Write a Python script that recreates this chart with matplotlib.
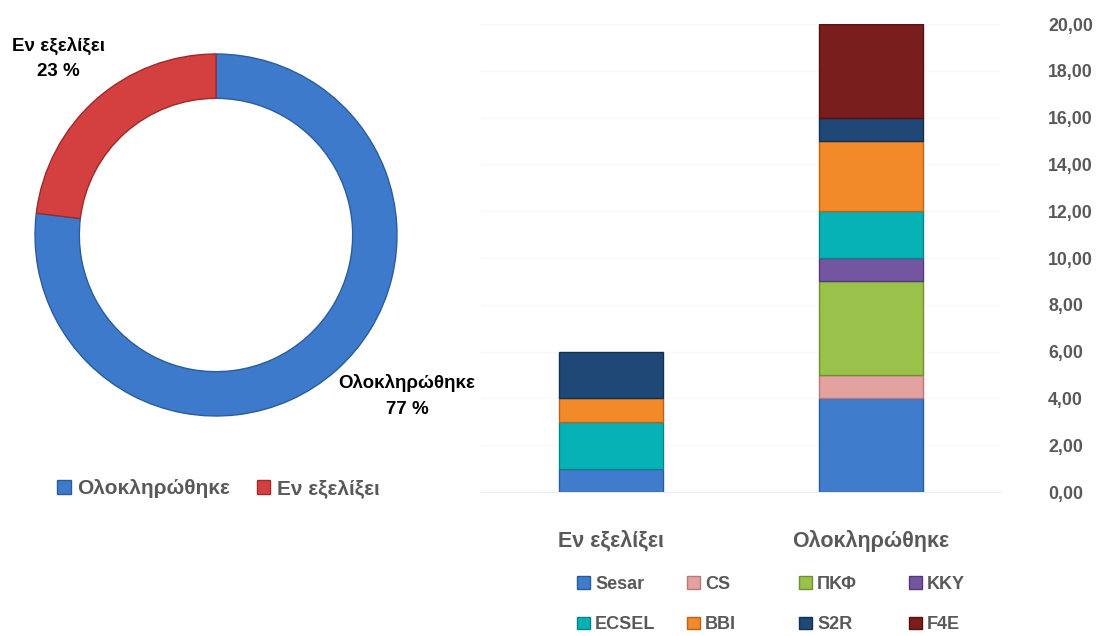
import matplotlib
matplotlib.use("Agg")
import matplotlib.pyplot as plt
from matplotlib.patches import Patch
import numpy as np

plt.rcParams['font.family'] = ['Liberation Sans', 'DejaVu Sans']
plt.rcParams['font.weight'] = 'bold'

# ---- data ----
status = ["Εν εξελίξει", "Ολοκληρώθηκε"]
programmes = ["Sesar", "CS", "ΠΚΦ", "KKY", "ECSEL", "BBI", "S2R", "F4E"]
in_progress = [1, 0, 0, 0, 2, 1, 2, 0]
completed = [4, 1, 4, 1, 2, 3, 1, 4]
yticks = [0, 2, 4, 6, 8, 10, 12, 14, 16, 18, 20]

prog_colors = ["#3f7ccb", "#e3a19f", "#9ac14a", "#7456a0",
               "#06b2b5", "#f28a2a", "#1f4877", "#7a1d1d"]
prog_edges = ["#2a5b9a", "#b87a78", "#6f8f30", "#533a7a",
              "#048688", "#b8641a", "#12304f", "#561212"]

donut_colors = ["#3d7acb", "#d43f3f"]
donut_edges = ["#2b5c9c", "#9e2a2a"]

gray = "#595959"

fig = plt.figure(figsize=(10.96, 6.36), dpi=100)
W, H = 1096, 636

def fax(l, t, r, b):
    return fig.add_axes([l / W, (H - b) / H, (r - l) / W, (b - t) / H])

# ---- donut ----
totals = [sum(completed), sum(in_progress)]
dlabels = [status[1], status[0]]
axd = fax(35, 54, 397, 416)
wedges, _ = axd.pie(totals, startangle=90, counterclock=False, radius=1,
                    colors=donut_colors,
                    wedgeprops=dict(width=0.245, linewidth=1.0))
for w, ec in zip(wedges, donut_edges):
    w.set_edgecolor(ec)
axd.set_xlim(-1, 1)
axd.set_ylim(-1, 1)
axd.set_aspect('equal')
axd.axis('off')
pct = [round(100 * t / sum(totals)) for t in totals]
lab_kw = dict(ha='center', va='center', fontsize=13.5, color='black', fontweight='bold')
fig.text(407 / W, 1 - 383 / H, f"{dlabels[0]}", **lab_kw)
fig.text(407 / W, 1 - 409 / H, f"{pct[0]} %", **lab_kw)
fig.text(58 / W, 1 - 46 / H, f"{dlabels[1]}", **lab_kw)
fig.text(58 / W, 1 - 72 / H, f"{pct[1]} %", **lab_kw)

dh = [Patch(facecolor=c, edgecolor=e) for c, e in zip(donut_colors, donut_edges)]
fig.legend(dh, dlabels, loc='center left', bbox_to_anchor=(57 / W, 1 - 489 / H),
           ncol=2, frameon=False, fontsize=15, labelcolor=gray,
           handlelength=0.65, handleheight=0.65, handletextpad=0.3,
           columnspacing=1.3, borderaxespad=0, borderpad=0)

# ---- stacked bars ----
axb = fax(481, 24, 1001, 492)
x = np.arange(len(status))
bottom = np.zeros(len(status))
handles = []
for i, p in enumerate(programmes):
    vals = np.array([in_progress[i], completed[i]], dtype=float)
    bars = axb.bar(x, vals, bottom=bottom, width=0.4, color=prog_colors[i],
                   edgecolor=prog_edges[i], linewidth=1.0, label=p, zorder=3)
    for b, v in zip(bars, vals):
        if v == 0:
            b.set_visible(False)
    handles.append(Patch(facecolor=prog_colors[i], edgecolor=prog_edges[i]))
    bottom += vals
axb.set_xlim(-0.5, 1.5)
axb.set_ylim(0, 20)
axb.set_yticks(yticks)
axb.set_yticklabels([f"{v:.2f}".replace('.', ',') for v in yticks])
axb.yaxis.tick_right()
axb.tick_params(axis='y', length=0, pad=34, labelsize=12.8, labelcolor=gray)
axb.set_xticks(x)
axb.set_xticklabels(status)
axb.tick_params(axis='x', length=0, pad=27, labelsize=15.5, labelcolor=gray)
axb.grid(axis='y', color='#f8f8f8', linewidth=1, zorder=0)
for s in ['top', 'left', 'right']:
    axb.spines[s].set_visible(False)
axb.spines['bottom'].set_color('#eeeeee')
for lbl in axb.get_yticklabels() + axb.get_xticklabels():
    lbl.set_fontweight('bold')

col_x = [577, 687, 799, 909]
for c in range(4):
    idx = [c, c + 4]
    fig.legend([handles[k] for k in idx], [programmes[k] for k in idx],
               loc='upper left', bbox_to_anchor=(col_x[c] / W, 1 - 576 / H),
               ncol=1, frameon=False, fontsize=13, labelcolor=gray,
               handlelength=0.7, handleheight=0.7, handletextpad=0.3,
               labelspacing=1.3, borderaxespad=0, borderpad=0)

fig.savefig("out.png", dpi=100)
